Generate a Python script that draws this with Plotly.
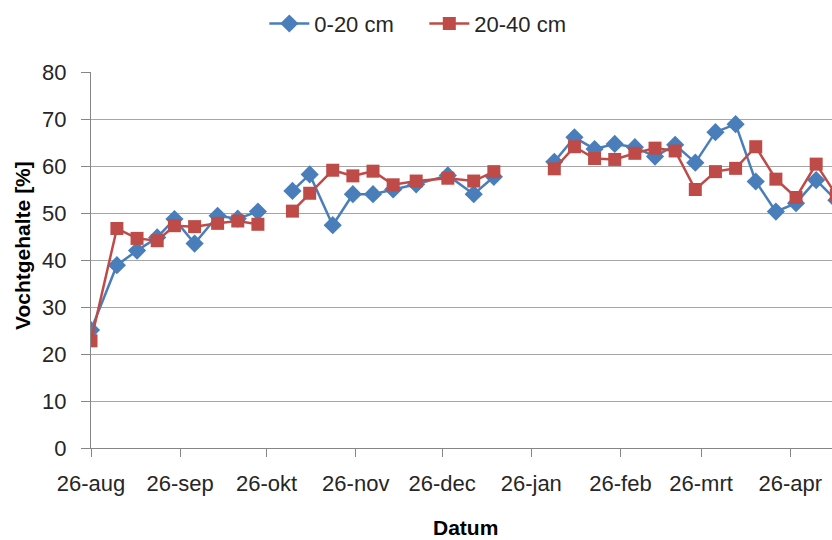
import plotly.graph_objects as go

dates = ["2010-08-26", "2010-09-04", "2010-09-11", "2010-09-18", "2010-09-24", "2010-10-01",
         "2010-10-09", "2010-10-16", "2010-10-23", "2010-10-30",
         "2010-11-04", "2010-11-10", "2010-11-18", "2010-11-25", "2010-12-02", "2010-12-09",
         "2010-12-17", "2010-12-28", "2011-01-06", "2011-01-13", "2011-01-23",
         "2011-02-03", "2011-02-10", "2011-02-17", "2011-02-24", "2011-03-03", "2011-03-10",
         "2011-03-17", "2011-03-24", "2011-03-31", "2011-04-07", "2011-04-14", "2011-04-21",
         "2011-04-28", "2011-05-05", "2011-05-12"]

depth_0_20 = [25.1, 38.9, 42.0, 44.8, 48.7, 43.5, 49.4, 48.8, 50.3, None,
              54.7, 58.2, 47.4, 54.0, 54.0, 55.0, 56.1, 58.0, 54.0, 57.7, None,
              60.9, 66.1, 63.6, 64.7, 64.0, 62.0, 64.5, 60.7, 67.2, 68.9, 56.7, 50.3,
              52.1, 57.0, 52.7]

depth_20_40 = [22.8, 46.7, 44.6, 44.1, 47.3, 47.1, 47.8, 48.3, 47.6, None,
               50.4, 54.2, 59.1, 57.9, 58.9, 56.0, 56.8, 57.4, 56.8, 58.8, None,
               59.4, 64.1, 61.6, 61.4, 62.7, 63.8, 63.2, 55.0, 58.8, 59.5, 64.1, 57.2,
               53.3, 60.4, 53.8]

tick_dates = ["2010-08-26", "2010-09-26", "2010-10-26", "2010-11-26", "2010-12-26",
              "2011-01-26", "2011-02-26", "2011-03-26", "2011-04-26"]
tick_labels = ["26-aug", "26-sep", "26-okt", "26-nov", "26-dec", "26-jan", "26-feb", "26-mrt", "26-apr"]

series_names = ["0-20 cm", "20-40 cm"]
x_title = "Datum"
y_title = "Vochtgehalte [%]"

FONT = "Liberation Sans, Arial, sans-serif"
AX = "#868686"
GRID = "#A6A6A6"
TXT = "#262626"

fig = go.Figure()
fig.add_trace(go.Scatter(
    x=dates, y=depth_0_20, name=series_names[0], mode="lines+markers",
    line=dict(color="#4A7EBB", width=2.5),
    marker=dict(symbol="diamond", size=14, color="#4A7EBB"),
    connectgaps=False,
))
fig.add_trace(go.Scatter(
    x=dates, y=depth_20_40, name=series_names[1], mode="lines+markers",
    line=dict(color="#BE4B48", width=2.5),
    marker=dict(symbol="square", size=13, color="#BE4B48"),
    connectgaps=False,
))

fig.update_layout(
    width=832, height=540,
    margin=dict(l=91, r=0, t=72, b=92),
    paper_bgcolor="white", plot_bgcolor="white",
    font=dict(family=FONT, size=22, color=TXT),
    showlegend=True,
    legend=dict(orientation="h", x=0.51, xanchor="center", y=0.995, yanchor="top",
                yref="container", xref="container", font=dict(size=22), itemwidth=40,
                entrywidth=105, entrywidthmode="pixels",
                traceorder="normal"),
    xaxis=dict(
        type="date",
        range=["2010-08-26", "2011-05-10 12:00"],
        tickmode="array", tickvals=tick_dates, ticktext=tick_labels,
        ticks="outside", ticklen=8, tickcolor=AX, tickwidth=1,
        ticklabelstandoff=8,
        showline=True, linecolor=AX, linewidth=1,
        showgrid=False, zeroline=False,
        tickfont=dict(size=22),
    ),
    yaxis=dict(
        range=[0, 80], dtick=10,
        ticks="outside", ticklen=9, tickcolor=AX, tickwidth=1,
        ticklabelstandoff=10,
        showline=True, linecolor=AX, linewidth=1,
        showgrid=True, gridcolor=GRID, gridwidth=1,
        zeroline=False,
        tickfont=dict(size=22),
    ),
    annotations=[
        dict(text="<b>" + x_title + "</b>", xref="paper", yref="paper",
             x=(465 - 91) / 741, y=(448 - 527) / 376, xanchor="center", yanchor="middle",
             showarrow=False, font=dict(size=21, color="#000000")),
        dict(text="<b>" + y_title + "</b>", xref="paper", yref="paper",
             x=(22 - 91) / 741, y=(448 - 246) / 376, xanchor="center", yanchor="middle",
             textangle=-90, showarrow=False, font=dict(size=21, color="#000000")),
    ],
)

fig.write_html("out.html")
